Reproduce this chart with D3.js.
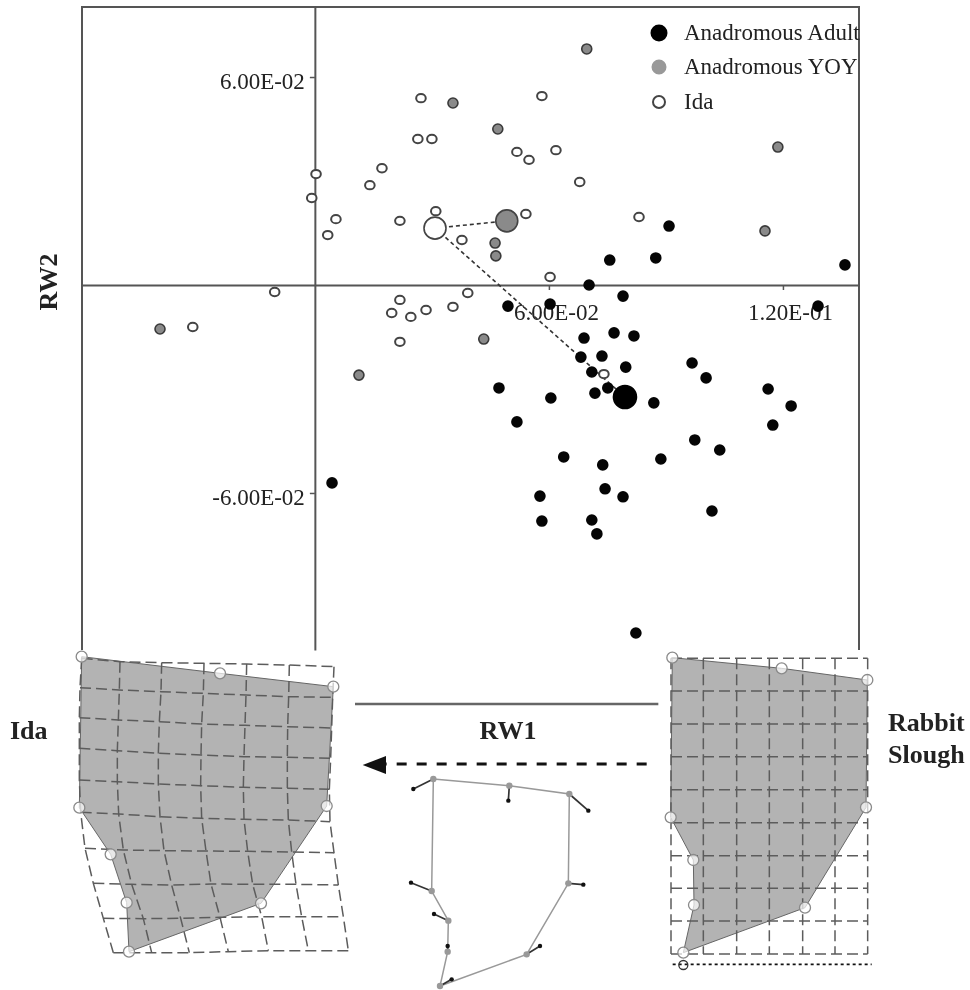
<!DOCTYPE html>
<html><head><meta charset="utf-8">
<script src="https://cdn.jsdelivr.net/npm/d3@7/dist/d3.min.js"></script>
<style>
html,body{margin:0;padding:0;background:#fff}
svg{display:block;filter:blur(0.55px)}
text{font-family:"Liberation Serif",serif;fill:#222}
</style></head><body>
<svg id="c" width="970" height="990"></svg>
<script>
// Scores in units of 1e-3
const adultX=[90.8,75.6,87.4,135.9,70.3,79.0,60.3,49.5,129.0,69.0,76.7,81.8,68.2,73.6,71.0,79.7,96.7,100.3,75.1,71.8,47.2,60.5,86.9,116.2,122.1,117.4,51.8,97.4,103.8,88.7,63.8,73.8,74.4,79.0,57.7,58.2,71.0,72.3,101.8,4.4,82.3];
const adultY=[17.0,7.2,7.8,5.8,0,-3.2,-5.5,-6.1,-6.1,-15.3,-13.8,-14.7,-20.8,-20.5,-25.1,-23.7,-22.5,-26.8,-29.7,-31.2,-29.7,-32.6,-34.0,-30.0,-34.9,-40.4,-39.5,-44.7,-47.6,-50.2,-49.6,-51.9,-58.8,-61.1,-60.9,-68.1,-67.8,-71.8,-65.2,-57.1,-100.4];
const yoyX=[69.7,35.4,46.9,118.7,115.4,46.2,46.4,43.3,11.3,-39.7];
const yoyY=[68.1,52.5,45.0,39.8,15.6,12.1,8.4,-15.6,-26.0,-12.7];
const idaX=[27.2,58.2,26.4,30.0,51.8,54.9,61.8,17.2,14.1,0.3,-0.8,67.9,5.4,3.3,21.8,31.0,54.1,37.7,83.1,60.3,-10.3,39.2,21.8,19.7,24.6,28.5,35.4,21.8,-31.3,74.1];
const idaY=[53.9,54.5,42.1,42.1,38.4,36.1,38.9,33.7,28.8,32.0,25.1,29.7,19.0,14.4,18.5,21.3,20.5,13.0,19.6,2.3,-2.0,-2.3,-4.3,-8.1,-9.2,-7.2,-6.3,-16.4,-12.1,-25.7];
const meanAdult=[79.5,-32.3], meanYoy=[49.2,18.5], meanIda=[30.8,16.4];
const xTicks=[60,120], yTicks=[60,-60];
const legendLabels=["Anadromous Adult","Anadromous YOY","Ida"];

// Thin-plate grids and outlines, each in the panel's own units
const idaGridX=[[65,180,305,432,560,688,822],[60,178,303,430,558,686,818],[58,175,298,425,555,683,815],[58,172,295,423,552,682,812],[58,172,295,422,550,682,808],[62,176,300,425,552,685,810],[75,190,312,438,563,695,822],[100,215,335,453,578,708,835],[130,250,362,480,605,725,850],[160,275,388,505,625,745,865]];
const idaGridY=[[55,65,68,70,72,75,80],[143,150,155,160,165,170,172],[233,240,245,252,256,260,264],[325,332,340,345,350,352,355],[420,425,432,437,442,445,448],[517,522,530,535,538,540,545],[625,630,632,633,634,636,638],[730,733,735,732,733,733,735],[835,836,835,832,830,830,830],[938,938,938,935,932,932,932]];
const idaOutline=[[65,50],[480,100],[820,140],[800,498],[603,790],[207,935],[200,788],[152,643],[58,503]];
const rabbitCols=[63,160,260,358,458,555,653];
const rabbitRows=[55,153,252,350,449,548,647,745,843,942];
const rabbitOutline=[[67,53],[395,85],[652,120],[648,502],[465,803],[100,938],[132,795],[130,660],[62,532]];
const wireOutline=[[250,267],[478,287],[658,312],[655,580],[530,793],[270,888],[293,785],[295,692],[245,603]];
const wireEnds=[[190,297],[475,332],[715,362],[700,584],[570,768],[305,868],[293,768],[252,672],[183,578]];

const svg=d3.select("#c");
const x=d3.scaleLinear().domain([-59.7,139.5]).range([82,859]);
const y=d3.scaleLinear().domain([80.2,-105.3]).range([7,650]);
const fmt=v=>{const s=Math.abs(v)>=100?(Math.abs(v)/100).toFixed(2)+"E-01":(Math.abs(v)/10).toFixed(2)+"E-02";return (v<0?"-":"")+s;};

// frame
const ink="#555";
const frame=svg.append("g").attr("stroke",ink).attr("stroke-width",2).attr("fill","none");
frame.append("path").attr("d",d3.line()([[x.range()[0],y.range()[1]],[x.range()[0],y.range()[0]],[x.range()[1],y.range()[0]],[x.range()[1],y.range()[1]]]));

const gx=svg.append("g").attr("transform",`translate(0,${y(0)})`).call(d3.axisBottom(x).tickValues(xTicks).tickSizeInner(5).tickSizeOuter(0).tickPadding(14).tickFormat(fmt));
const gy=svg.append("g").attr("transform",`translate(${x(0)},0)`).call(d3.axisLeft(y).tickValues(yTicks).tickSizeInner(5).tickSizeOuter(0).tickPadding(5).tickFormat(fmt));
[gx,gy].forEach(g=>{g.select(".domain").attr("stroke",ink).attr("stroke-width",2);
 g.selectAll("line").attr("stroke",ink).attr("stroke-width",1.5);
 g.selectAll("text").attr("font-size",23).attr("font-family","Liberation Serif").attr("fill","#222");});
gx.selectAll("text").attr("dx",7);
gy.selectAll("text").attr("dy","0.5em");

// group-mean connectors
svg.append("g").attr("stroke","#333").attr("stroke-width",1.6).attr("stroke-dasharray","4 3")
 .selectAll("line").data([meanYoy,meanAdult]).join("line")
 .attr("x1",x(meanIda[0])).attr("y1",y(meanIda[1])).attr("x2",d=>x(d[0])).attr("y2",d=>y(d[1]));

function pts(xs,ys,fill,stroke,rx,ry,sw){
 svg.append("g").selectAll("ellipse").data(xs.map((v,i)=>[v,ys[i]])).join("ellipse")
  .attr("cx",d=>x(d[0])).attr("cy",d=>y(d[1])).attr("rx",rx).attr("ry",ry)
  .attr("fill",fill).attr("stroke",stroke).attr("stroke-width",sw||1.6);
}
pts(yoyX,yoyY,"#8a8a8a","#3a3a3a",5,5);
pts(idaX,idaY,"#fff","#444",4.8,4.2,2);
pts(adultX,adultY,"#050505","#050505",5,5);
pts([meanIda[0]],[meanIda[1]],"#fff","#444",11,11);
pts([meanYoy[0]],[meanYoy[1]],"#8a8a8a","#444",11,11);
pts([meanAdult[0]],[meanAdult[1]],"#000","#000",11.5,11.5);

// legend
const legFill=["#000","#999","#fff"],legStroke=["#000","#999","#444"];
const leg=svg.append("g").selectAll("g").data(legendLabels).join("g")
 .attr("transform",(d,i)=>`translate(0,${[33,67,102][i]})`);
leg.append("circle").attr("cx",659).attr("r",(d,i)=>[7.5,6.5,6][i]).attr("fill",(d,i)=>legFill[i]).attr("stroke",(d,i)=>legStroke[i]).attr("stroke-width",2);
leg.append("text").attr("x",684).attr("dy","0.3em").attr("font-size",23).text(d=>d);

// deformation panels
const lineGen=d3.line();
function panel(px,py,rowsXY,outline){
 svg.append("path").attr("d",lineGen(outline.map(p=>[px(p[0]),py(p[1])]))+"Z").attr("fill","#b3b3b3").attr("stroke","#666").attr("stroke-width",1);
 const g=svg.append("g").attr("fill","none").attr("stroke","#5c5c5c").attr("stroke-width",1.5).attr("stroke-dasharray","11 5");
 rowsXY.forEach(r=>g.append("path").attr("d",lineGen(r.map(p=>[px(p[0]),py(p[1])]))));
 rowsXY[0].forEach((_,j)=>g.append("path").attr("d",lineGen(rowsXY.map(r=>[px(r[j][0]),py(r[j][1])]))));
 svg.append("g").selectAll("circle").data(outline).join("circle").attr("cx",p=>px(p[0])).attr("cy",p=>py(p[1])).attr("r",5.5)
  .attr("fill","#fff").attr("fill-opacity",.7).attr("stroke","#8a8a8a").attr("stroke-width",1.3);
}
const ax=d3.scaleLinear().domain([0,900]).range([60,360]), ay=d3.scaleLinear().domain([0,990]).range([640,970]);
panel(ax,ay,idaGridX.map((r,i)=>r.map((v,j)=>[v,idaGridY[i][j]])),idaOutline);
const bx=d3.scaleLinear().domain([0,720]).range([650,890]), by=d3.scaleLinear().domain([0,1020]).range([640,980]);
panel(bx,by,rabbitRows.map(r=>rabbitCols.map(c=>[c,r])),rabbitOutline);
svg.append("path").attr("d",lineGen([[bx(68),by(973)],[bx(665),by(973)]])).attr("stroke","#111").attr("stroke-width",1.8).attr("stroke-dasharray","3 3");
svg.append("circle").attr("cx",bx(100)).attr("cy",by(975)).attr("r",4.5).attr("fill","none").attr("stroke","#333").attr("stroke-width",1.3);

// centre: RW1 axis, arrow, vector diagram
const cx=d3.scaleLinear().domain([0,930]).range([350,660]), cy=d3.scaleLinear().domain([0,900]).range([690,990]);
svg.append("path").attr("d",lineGen([[cx(15),cy(42)],[cx(925),cy(42)]])).attr("stroke","#666").attr("stroke-width",2.4);
svg.append("path").attr("d",lineGen([[cx(890),cy(222)],[cx(105),cy(222)]])).attr("stroke","#111").attr("stroke-width",3).attr("stroke-dasharray","10 10");
svg.append("path").attr("d",lineGen([[cx(38),cy(225)],[cx(108),cy(198)],[cx(108),cy(252)]])+"Z").attr("fill","#111");
svg.append("path").attr("d",lineGen(wireOutline.map(p=>[cx(p[0]),cy(p[1])]))+"Z").attr("fill","none").attr("stroke","#999").attr("stroke-width",1.5);
svg.append("g").selectAll("line").data(wireOutline).join("line")
 .attr("x1",p=>cx(p[0])).attr("y1",p=>cy(p[1])).attr("x2",(p,i)=>cx(wireEnds[i][0])).attr("y2",(p,i)=>cy(wireEnds[i][1])).attr("stroke","#333").attr("stroke-width",1.7);
svg.append("g").selectAll("circle").data(wireOutline).join("circle").attr("cx",p=>cx(p[0])).attr("cy",p=>cy(p[1])).attr("r",3.2).attr("fill","#999");
svg.append("g").selectAll("circle").data(wireEnds).join("circle").attr("cx",p=>cx(p[0])).attr("cy",p=>cy(p[1])).attr("r",2.2).attr("fill","#111");

// labels
const bold=(t,xx,yy,anchor)=>svg.append("text").attr("x",xx).attr("y",yy).attr("font-size",26).attr("font-weight","bold").attr("text-anchor",anchor||"start").text(t);
bold("RW1",508,739,"middle");
bold("Ida",10,739);
bold("Rabbit",888,731);
bold("Slough",888,763);
svg.append("text").attr("transform","translate(57,282) rotate(-90)").attr("font-size",26).attr("font-weight","bold").attr("text-anchor","middle").text("RW2");
</script>
</body></html>
